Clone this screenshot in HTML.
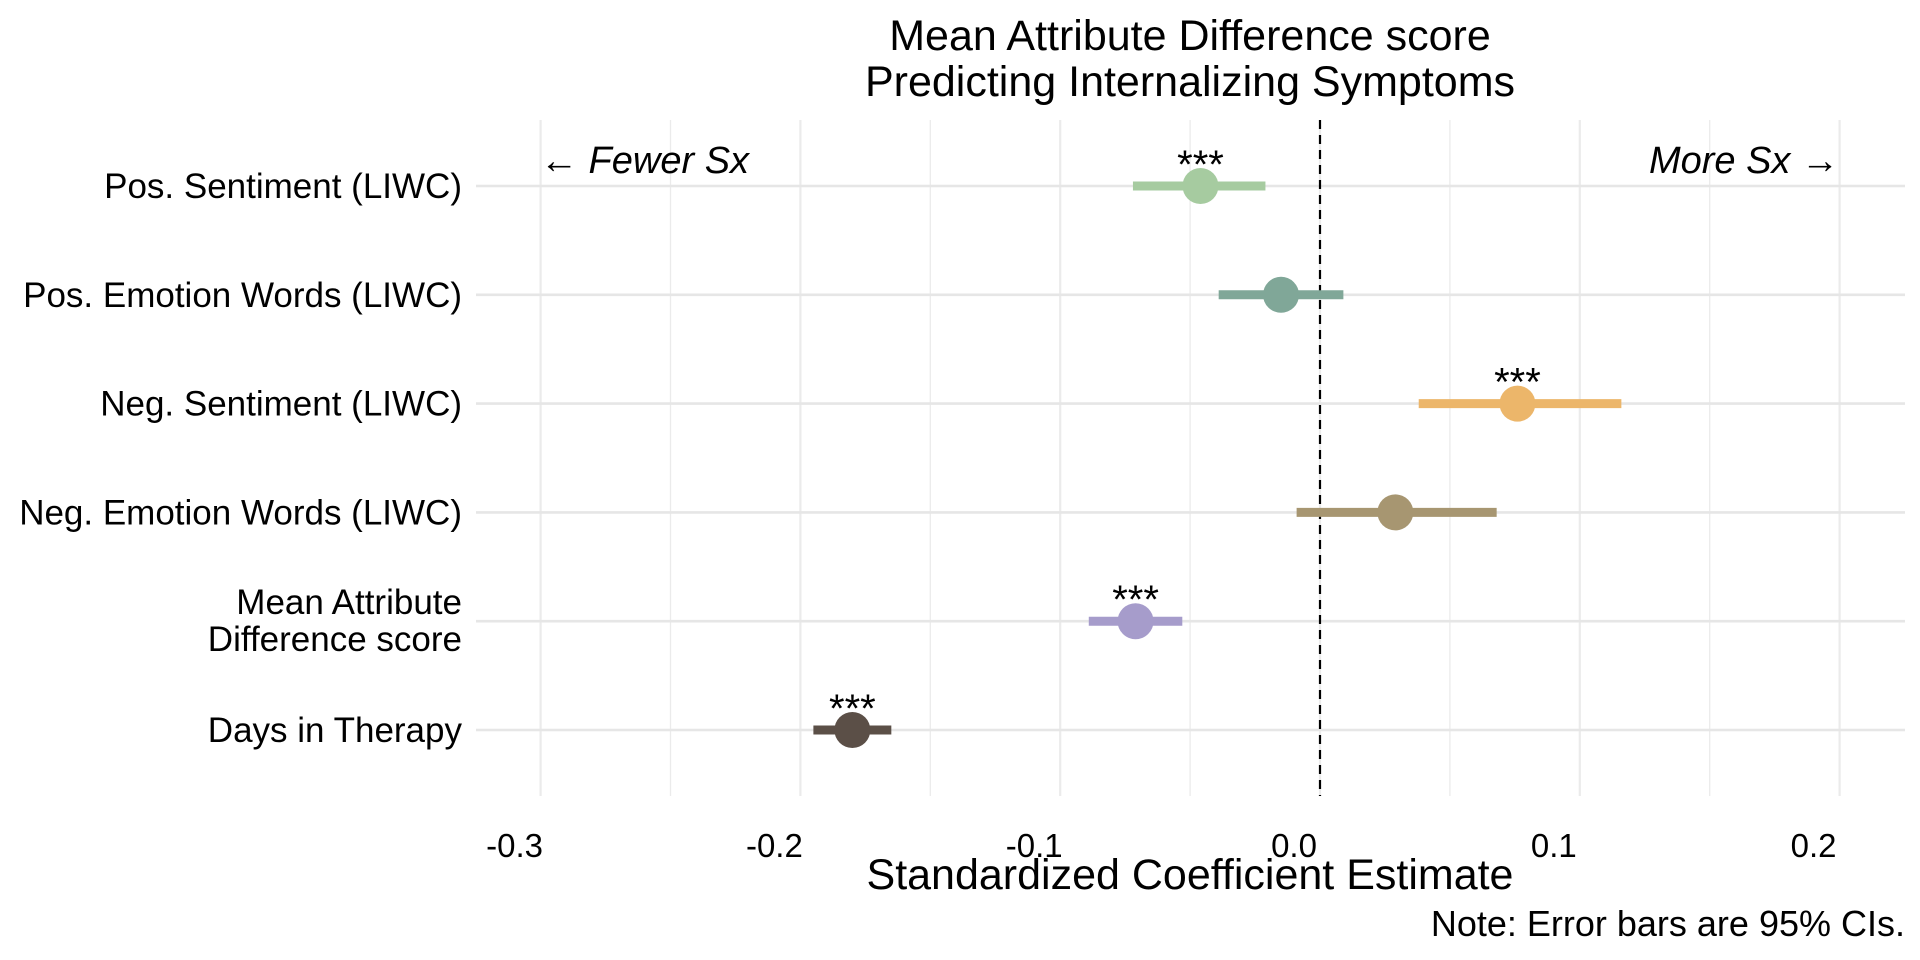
<!DOCTYPE html>
<html><head><meta charset="utf-8"><style>
html,body{margin:0;padding:0;background:#fff;}
svg{display:block;font-family:"Liberation Sans",sans-serif;}
</style></head><body>
<svg id="chart" width="1920" height="960" viewBox="0 0 1920 960" xmlns="http://www.w3.org/2000/svg">
<g id="grid"></g><g id="marks"></g><g id="labels"></g>
</svg>
<script>
const categories = ["Pos. Sentiment (LIWC)","Pos. Emotion Words (LIWC)","Neg. Sentiment (LIWC)","Neg. Emotion Words (LIWC)","Mean Attribute|Difference score","Days in Therapy"];
const estimates = [-0.046,-0.015,0.076,0.029,-0.071,-0.180];
const lower = [-0.072,-0.039,0.038,-0.009,-0.089,-0.195];
const upper = [-0.021,0.009,0.116,0.068,-0.053,-0.165];
const stars = ["***","","***","","***","***"];
const colors = ["#a6cba0","#80a798","#ecb66a","#a79671","#a69ccb","#5b4f47"];
const ticks = [-0.3,-0.2,-0.1,0.0,0.1,0.2];
const tickLabels = ["-0.3","-0.2","-0.1","0.0","0.1","0.2"];
const NS="http://www.w3.org/2000/svg";
const x = v => 1320 + v*2598;
const y = i => 186 + i*108.8;
function mk(tag, attrs, parent, text){const e=document.createElementNS(NS,tag);for(const k in attrs)e.setAttribute(k,attrs[k]);if(text!==undefined)e.textContent=text;parent.appendChild(e);return e;}
const grid=document.getElementById('grid'), marks=document.getElementById('marks'), labels=document.getElementById('labels');
for(let v=-0.3; v<=0.2001; v+=0.05){
  const l=mk('line',{x1:x(v),x2:x(v),y1:120,y2:796,stroke:'#ebebeb','stroke-width':Math.abs(Math.round(v*20))%2===0?2.2:1.3},grid);
  
  
}
categories.forEach((c,i)=>{
  const l=mk('line',{x1:476,x2:1905,y1:y(i),y2:y(i),stroke:'#e6e6e6','stroke-width':2.6},grid);
  
  
  const t=mk('text',{x:462,'text-anchor':'end','font-size':35,fill:'#000'},labels);
  
  
  const parts=c.split('|');
  if(parts.length===1){t.setAttribute('y',y(i)+12);t.textContent=c;}
  else{parts.forEach((p,k)=>{mk('tspan',{x:462,y:y(i)-7+k*37},t,p);});}
});
const zl=mk('line',{x1:x(0),x2:x(0),y1:120,y2:796,stroke:'#000','stroke-width':2.2,'stroke-dasharray':'9,6'},marks);


estimates.forEach((e,i)=>{
  const b=mk('line',{x1:x(lower[i]),x2:x(upper[i]),y1:y(i),y2:y(i),stroke:colors[i],'stroke-width':9},marks);
  
  
  const p=mk('circle',{cx:x(e),cy:y(i),r:18,fill:colors[i]},marks);
  
  
  if(stars[i]){
    const s=mk('text',{x:x(e),y:y(i)-8,'text-anchor':'middle','font-size':40,fill:'#000'},labels,stars[i]);
    
    
  }
});
ticks.forEach((v,i)=>{
  const t=mk('text',{x:x(v)-26,y:857,'text-anchor':'middle','font-size':33,fill:'#000'},labels,tickLabels[i]);
  
  
});
</script>
<script>
const L=document.getElementById('labels');
function tx(attrs,text,name){const e=document.createElementNS("http://www.w3.org/2000/svg",'text');for(const k in attrs)e.setAttribute(k,attrs[k]);e.textContent=text;L.appendChild(e);}
tx({x:1190,y:50,'text-anchor':'middle','font-size':43,fill:'#000'},'Mean Attribute Difference score','chart-title-line1');
tx({x:1190,y:96,'text-anchor':'middle','font-size':43,fill:'#000'},'Predicting Internalizing Symptoms','chart-title-line2');
tx({x:540,y:173,'text-anchor':'start','font-size':38,'font-style':'italic',fill:'#000'},'← Fewer Sx','fewer-sx-annotation');
tx({x:1839,y:173,'text-anchor':'end','font-size':38,'font-style':'italic',fill:'#000'},'More Sx →','more-sx-annotation');
tx({x:1190,y:889,'text-anchor':'middle','font-size':43,fill:'#000'},'Standardized Coefficient Estimate','x-axis-title');
tx({x:1905,y:936,'text-anchor':'end','font-size':36,fill:'#000'},'Note: Error bars are 95% CIs.','caption-note');
</script>
</body></html>
